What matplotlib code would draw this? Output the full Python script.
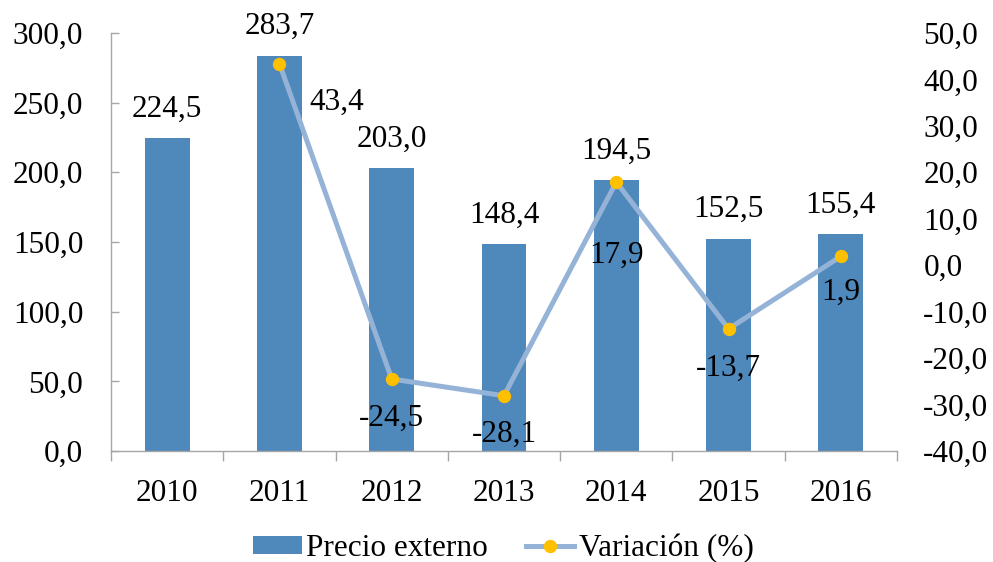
import matplotlib
matplotlib.use("Agg")
import matplotlib.pyplot as plt
import numpy as np

# ─── Data ────────────────────────────────────────────────────────────────────
years = ["2010", "2011", "2012", "2013", "2014", "2015", "2016"]
precio_externo = [224.5, 283.7, 203.0, 148.4, 194.5, 152.5, 155.4]
variacion = [np.nan, 43.4, -24.5, -28.1, 17.9, -13.7, 1.9]

# label offsets for the variation series (pixels, x / y)
var_offsets = [(0, 0), (57, -39), (0, -39), (0, -39), (0, -73), (0, -39), (0, -36)]

BAR_COLOR = "#4F88BB"
LINE_COLOR = "#95B3D7"
MARKER_COLOR = "#FFC000"
AXIS_COLOR = "#A6A6A6"
FS = 22.5

plt.rcParams["font.family"] = ["Liberation Serif", "DejaVu Serif"]

fig = plt.figure(figsize=(9.93, 5.62), dpi=100)
ax = fig.add_axes([0.1118, 0.1975, 0.7915, 0.7438])
ax2 = ax.twinx()

x = np.arange(len(years))

# ─── Bars (left axis) ────────────────────────────────────────────────────────
bars = ax.bar(x, precio_externo, width=0.4, color=BAR_COLOR,
              label="Precio externo", zorder=2)
for xi, v in zip(x, precio_externo):
    ax.annotate(f"{v:.1f}".replace(".", ","), (xi, v), xytext=(0, 29),
                textcoords="offset pixels", ha="center", va="center",
                fontsize=FS, zorder=5)

ax.set_ylim(0, 300)
ax.set_yticks(np.arange(0, 301, 50))
ax.set_yticklabels([f"{t:.1f}".replace(".", ",") for t in np.arange(0, 301, 50)])
ax.set_xlim(-0.5, len(years) - 0.5)
ax.set_xticks(x)
ax.set_xticklabels(years)
ax.set_xticks(np.arange(-0.5, len(years)), minor=True)

ax.tick_params(axis="y", direction="in", length=6, width=1, color=AXIS_COLOR,
               labelsize=FS, pad=20)
ax.tick_params(axis="x", which="major", length=0, labelsize=FS, pad=20)
ax.tick_params(axis="x", which="minor", direction="out", length=7, width=1,
               color=AXIS_COLOR)

for s in ["top", "right"]:
    ax.spines[s].set_visible(False)
for s in ["left", "bottom"]:
    ax.spines[s].set_color(AXIS_COLOR)
    ax.spines[s].set_linewidth(1)

# ─── Line (right axis) ───────────────────────────────────────────────────────
line, = ax2.plot(x, variacion, color=LINE_COLOR, lw=3.6, marker="o",
                 ms=8.6, mfc=MARKER_COLOR, mec=MARKER_COLOR,
                 label="Variación (%)", zorder=3)
for xi, v, off in zip(x, variacion, var_offsets):
    if np.isnan(v):
        continue
    ax2.annotate(f"{v:.1f}".replace(".", ","), (xi, v), xytext=off,
                 textcoords="offset pixels", ha="center", va="center",
                 fontsize=FS, zorder=5)

ax2.set_ylim(-40, 50)
rticks = np.arange(-40, 51, 10)
ax2.set_yticks(rticks)
ax2.set_yticklabels([f"{t:.1f}".replace(".", ",") for t in rticks])
ax2.tick_params(axis="y", length=0, labelsize=FS, pad=19)
for s in ax2.spines.values():
    s.set_visible(False)

# ─── Legend ──────────────────────────────────────────────────────────────────
fig.legend([bars, line], ["Precio externo", "Variación (%)"],
           loc="center", bbox_to_anchor=(0.507, 0.024), ncol=2, frameon=False,
           fontsize=FS, handlelength=1.55, handletextpad=0.15,
           columnspacing=1.2, borderpad=0, handleheight=0.5)

fig.savefig("out.png", dpi=100)
